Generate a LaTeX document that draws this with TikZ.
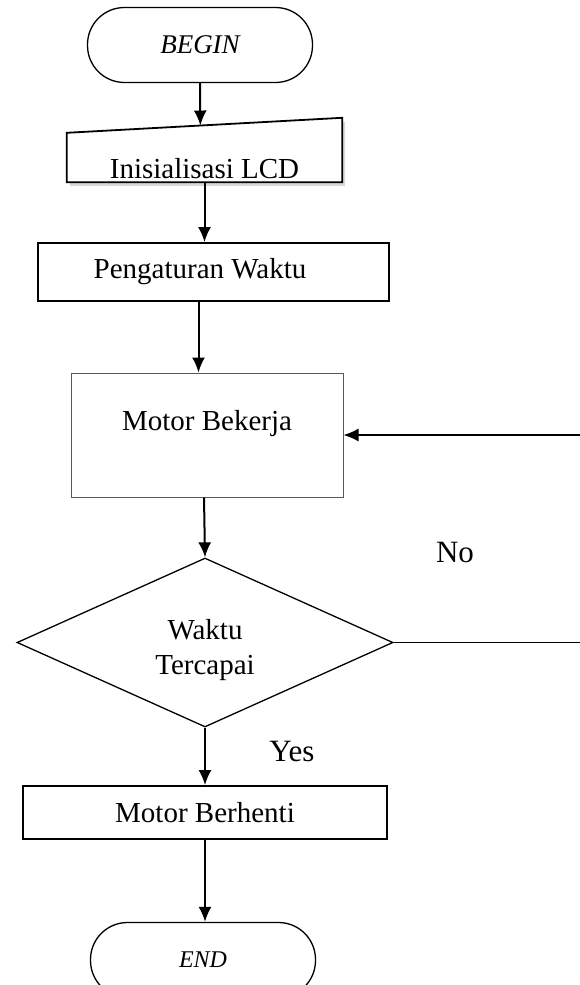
\documentclass[tikz,border=0pt]{standalone}
\usepackage{fontspec}
\setmainfont{Liberation Serif}
\usetikzlibrary{shapes.geometric,arrows.meta,calc}

\begin{document}
\begin{tikzpicture}[x=1pt,y=-1pt,>={Latex[length=15pt,width=13pt]},
		font=\fontsize{29}{35}\selectfont,
		term/.style={draw,line width=1.3pt,rounded corners=37pt,minimum width=225pt,
			minimum height=75pt,inner sep=0pt},
		proc/.style={draw,line width=1.8pt,inner sep=0pt},
		flow/.style={->,line width=2pt},
	]
		\useasboundingbox (0,0) rectangle (580,985);

		\node[term,font=\itshape\fontsize{27}{32}\selectfont] (begin) at (200,45) {BEGIN};

		\node[inner xsep=0pt,inner ysep=0pt,minimum width=275pt,text height=45pt,text depth=4pt]
			(init) at (204.5,157.5) {};
		\fill[gray!30]
			([shift={(3,4)}]init.north west) -- ([shift={(3,-11)}]init.north east)
			-- ([shift={(3,4)}]init.south east) -- ([shift={(3,4)}]init.south west) -- cycle;
		\filldraw[proc,fill=white]
			(init.north west) -- ([yshift=15pt]init.north east) -- (init.south east) -- (init.south west) -- cycle;
		\node at (init.base) [anchor=base] {Inisialisasi LCD};
		\coordinate (initIn) at ($(init.north west)!0.485!([yshift=15pt]init.north east)$);

		\node[proc,minimum width=351pt,minimum height=58pt,
			label={[xshift=-13.5pt]center:Pengaturan Waktu}] (set) at (213.5,272) {};

		\node[proc,line width=1pt,draw=gray!70!black,minimum width=272pt,
			text height=57pt,text depth=67pt] (motor) at (207,435) {Motor Bekerja};

		\node[draw,diamond,line width=1.3pt,minimum width=376pt,minimum height=169pt,inner sep=0pt,
			label={[align=center,yshift=-8pt]center:Waktu\\Tercapai}] (dec) at (205,642.5) {};

		\node[proc,minimum width=364pt,minimum height=53pt] (stop) at (205,812.5) {Motor Berhenti};

		\node[term,font=\itshape\fontsize{24}{29}\selectfont] (end) at (203,960) {END};

		\node[anchor=base,font=\fontsize{31}{37}\selectfont] (no) at (455,562) {No};
		\node[anchor=base,font=\fontsize{31}{37}\selectfont] (yes) at (292,761) {Yes};

		\coordinate (edgeR) at (581,0);

		\draw[flow] (begin.south) -- (initIn);
		\draw[flow] (init.south) -- (init.south |- set.north);
		\draw[flow] ([xshift=-15pt]set.south) -- ([xshift=-15pt]set.south |- motor.north);
		\draw[flow] ([xshift=-3pt]motor.south) -- (dec.north);
		\draw[flow] (dec.south) -- (dec.south |- stop.north);
		\draw[flow] (stop.south) -- (stop.south |- end.north);
		\draw[flow,line width=1.5pt] (dec.east) -- (dec.east -| edgeR) |- (motor.east);
	\end{tikzpicture}
\end{document}
